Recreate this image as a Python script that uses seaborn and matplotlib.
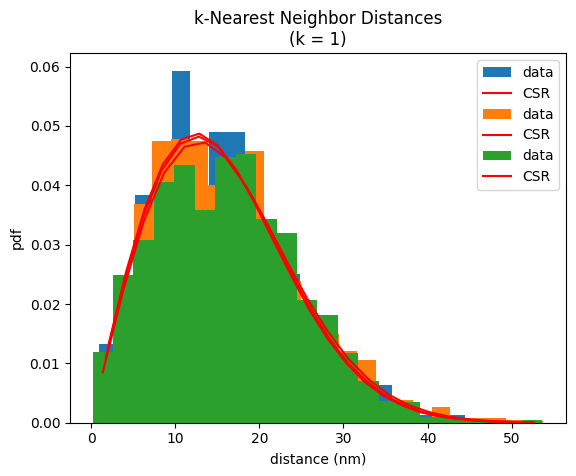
import numpy as np
import pandas as pd
import matplotlib
matplotlib.use("Agg")
import matplotlib.pyplot as plt
import seaborn as sns

# ---- data ----
# blue dataset histogram (density per bin), bins start / width in nm
blue_start, blue_width = 0.89, 2.179
blue_heights = [0.0133, 0.020, 0.0383, 0.040, 0.0593, 0.040, 0.0489, 0.0489,
                0.038, 0.029, 0.025, 0.018, 0.014, 0.011, 0.0085, 0.0064,
                0.003, 0.00135, 0.00135, 0.00135, 0.0006, 0.0004, 0.0002, 0.0002]
blue_csr = [0.0126, 0.0254, 0.0359, 0.0435, 0.0477, 0.0487, 0.0467, 0.0426,
            0.0371, 0.0309, 0.0248, 0.0190, 0.0141, 0.0101, 0.0069, 0.0046,
            0.0030, 0.0018, 0.0011, 0.00064, 0.00036, 0.0002, 0.0001, 0.00005]

# orange dataset
orange_start, orange_width = 0.63, 2.214
orange_heights = [0.010, 0.022, 0.0369, 0.0475, 0.0478, 0.0474, 0.040, 0.043,
                  0.0457, 0.031, 0.0238, 0.0175, 0.015, 0.0121, 0.0106, 0.003,
                  0.0039, 0.001, 0.0027, 0.00085, 0.00085, 0.00085, 0.00045, 0.0003]
orange_csr = [0.0109, 0.0238, 0.0346, 0.0425, 0.0470, 0.0482, 0.0466, 0.0426,
              0.0372, 0.0310, 0.0249, 0.0192, 0.0142, 0.0101, 0.0070, 0.0046,
              0.0030, 0.0018, 0.0011, 0.00064, 0.00036, 0.00019, 0.0001, 0.00005]

# green dataset
green_start, green_width = 0.18, 2.43
green_heights = [0.01185, 0.0249, 0.0307, 0.0405, 0.0435, 0.0359, 0.0448, 0.0452,
                 0.0343, 0.0320, 0.0206, 0.0181, 0.0118, 0.0071, 0.0036, 0.0035,
                 0.0009, 0.0009, 0.0003, 0.0003, 0.0, 0.0005]
green_csr = [0.0085, 0.0223, 0.0339, 0.0421, 0.0465, 0.0472, 0.0447, 0.0399,
             0.0338, 0.0272, 0.0209, 0.0154, 0.0108, 0.0073, 0.0047, 0.0029,
             0.00175, 0.0010, 0.00055, 0.00029, 0.00015, 0.00007]

datasets = [
    (blue_start, blue_width, blue_heights, blue_csr, "C0"),
    (orange_start, orange_width, orange_heights, orange_csr, "C1"),
    (green_start, green_width, green_heights, green_csr, "C2"),
]

fig, ax = plt.subplots(figsize=(6.4, 4.8), dpi=100)

handles = []
for start, width, heights, csr, color in datasets:
    n = len(heights)
    centers = start + width * (np.arange(n) + 0.5)
    df = pd.DataFrame({"x": centers, "w": np.asarray(heights, dtype=float)})
    n_cont = len(ax.containers)
    sns.histplot(data=df, x="x", weights="w", binwidth=width,
                 binrange=(start, start + n * width), stat="count",
                 element="bars", fill=True, color=color, alpha=1,
                 linewidth=0, edgecolor="none", ax=ax)
    bars = ax.containers[n_cont]
    n_lines = len(ax.lines)
    sns.lineplot(x=centers, y=csr, color="red", linewidth=1.5, sort=False,
                 ax=ax, legend=False)
    line = ax.lines[n_lines]
    handles += [bars.patches[0], line]

labels = ["data", "CSR"] * 3
ax.legend(handles, labels, loc="upper right")
ax.set_title("k-Nearest Neighbor Distances\n(k = 1)")
ax.set_xlabel("distance (nm)")
ax.set_ylabel("pdf")
ax.set_xticks([0, 10, 20, 30, 40, 50])

fig.savefig("out.png", dpi=100, bbox_inches="tight")
